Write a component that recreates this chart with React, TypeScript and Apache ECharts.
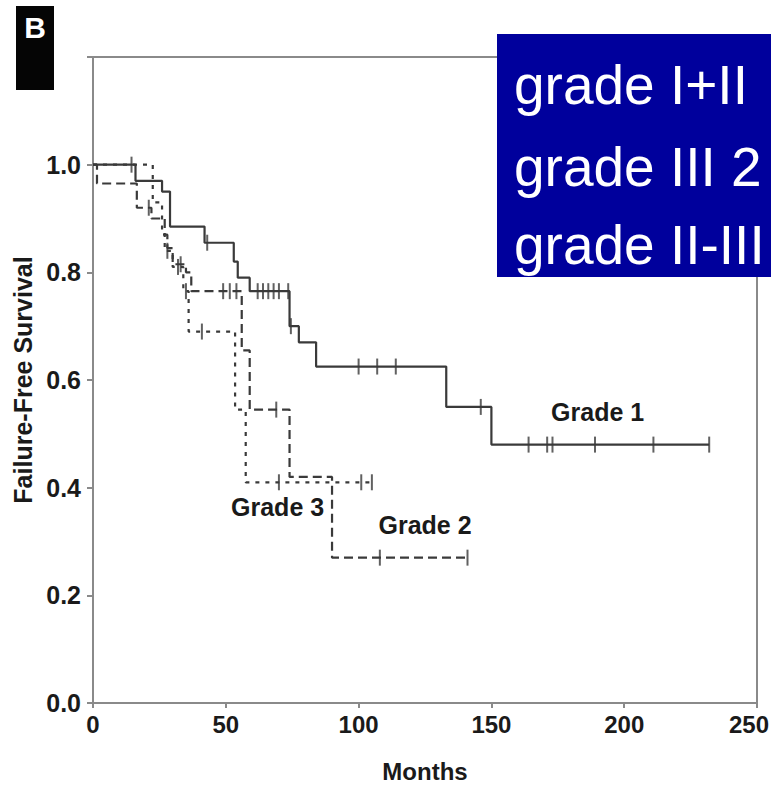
import React, { useEffect, useRef } from "react";
import * as echarts from "echarts";

// ---- data ----
const xTicks = [0, 50, 100, 150, 200, 250];
const yTicks = [0, 0.2, 0.4, 0.6, 0.8, 1.0];

// Grade 1 (solid)
const grade1Times = [0, 16, 26, 29, 42, 53, 54.5, 59, 74, 77.5, 84, 133, 150, 232];
const grade1Surv = [1.0, 0.97, 0.95, 0.885, 0.855, 0.82, 0.79, 0.765, 0.7, 0.67, 0.625, 0.55, 0.48, 0.48];
const grade1Censor = [14.5, 43, 62, 64, 66, 68, 70, 73.5, 74.5, 100, 107, 114, 146, 164, 171, 173, 189, 211, 232];

// Grade 2 (dashed)
const grade2Times = [0, 1.5, 16.5, 22, 27, 28, 30, 35, 37, 56, 59, 74, 90, 141];
const grade2Surv = [1.0, 0.965, 0.92, 0.9, 0.87, 0.845, 0.815, 0.8, 0.765, 0.655, 0.545, 0.42, 0.27, 0.27];
const grade2Censor = [21, 33, 49, 51.5, 54, 69, 108, 141];

// Grade 3 (dotted)
const grade3Times = [0, 22.5, 26, 27, 30, 34, 36, 53.5, 57.5, 105];
const grade3Surv = [1.0, 0.93, 0.87, 0.84, 0.81, 0.765, 0.69, 0.545, 0.41, 0.41];
const grade3Censor = [28, 32, 35, 41, 70, 101, 105];

const curveLabels = ["Grade 1", "Grade 2", "Grade 3"];
const curveLabelAnchors: [number, number][] = [
  [190, 0.54],
  [125, 0.331],
  [69.5, 0.364],
];

const legendLines = ["grade I+II", "grade III 2", "grade II-III"];
const panelLetter = "B";
const xAxisName = "Months";
const yAxisName = "Failure-Free Survival";

// ---- helpers ----
function stepValue(times: number[], surv: number[], t: number): number {
  let s = surv[0];
  for (let i = 0; i < times.length; i++) {
    if (times[i] <= t) s = surv[i];
  }
  return s;
}

function curveData(times: number[], surv: number[]) {
  return times.map((t, i) => [t, surv[i]]);
}

function censorData(times: number[], surv: number[], censor: number[]) {
  return censor.map((t) => [t, stepValue(times, surv, t)]);
}

const NARROW = "'Liberation Sans Narrow', 'Arial Narrow', 'Liberation Sans', Arial, sans-serif";
const SANS = "'Liberation Sans', Arial, sans-serif";
const INK = "#1a1a1a";
const LINE = "#3a3a3a";
const FRAME = "#8a8a8a";

export default function App() {
  const ref = useRef<HTMLDivElement>(null);

  useEffect(() => {
    document.body.style.margin = "0";
    if (!ref.current) return;
    const chart = echarts.init(ref.current, undefined, { renderer: "svg" });

    const tickStyle = { color: FRAME, width: 2 };
    const xMax = xTicks[xTicks.length - 1];

    const censorSeries = (name: string, data: number[][]) => ({
      name,
      type: "scatter",
      data,
      symbol: "rect",
      symbolSize: [2, 16],
      itemStyle: { color: LINE },
      silent: true,
      z: 4,
    });

    chart.setOption({
      animation: false,
      backgroundColor: "#ffffff",
      grid: {
        left: 93,
        right: 14,
        top: 57,
        bottom: 84,
        containLabel: false,
        outerBoundsMode: "none",
        show: true,
        borderColor: FRAME,
        borderWidth: 2,
        backgroundColor: "transparent",
      },
      xAxis: {
        type: "value",
        min: xTicks[0],
        max: xMax,
        interval: xTicks[1] - xTicks[0],
        axisLine: { show: true, lineStyle: tickStyle },
        axisTick: { show: true, length: 5, lineStyle: tickStyle },
        splitLine: { show: false },
        axisLabel: {
          fontFamily: NARROW,
          fontWeight: "bold",
          fontSize: 24,
          color: INK,
          margin: 9,
          formatter: (v: number) => (v >= xMax ? `{last|${v}}` : `${v}`),
          rich: {
            last: {
              fontFamily: NARROW,
              fontWeight: "bold",
              fontSize: 24,
              color: INK,
              padding: [0, 16, 0, 0],
            },
          },
        },
        name: xAxisName,
        nameLocation: "middle",
        nameGap: 56,
        nameTextStyle: { fontFamily: NARROW, fontWeight: "bold", fontSize: 24, color: INK },
      },
      yAxis: {
        type: "value",
        min: 0,
        max: 1.2,
        interval: yTicks[1] - yTicks[0],
        axisLine: { show: true, lineStyle: tickStyle },
        axisTick: { show: true, length: 6, lineStyle: tickStyle },
        splitLine: { show: false },
        axisLabel: {
          fontFamily: NARROW,
          fontWeight: "bold",
          fontSize: 25,
          color: INK,
          margin: 12,
          formatter: (v: number) => (v > yTicks[yTicks.length - 1] + 0.001 ? "" : v.toFixed(1)),
        },
        name: yAxisName,
        nameLocation: "middle",
        nameGap: 54,
        nameTextStyle: { fontFamily: SANS, fontWeight: "bold", fontSize: 25, color: INK },
      },
      series: [
        {
          name: "Grade 1",
          type: "line",
          step: "end",
          data: curveData(grade1Times, grade1Surv),
          symbol: "none",
          lineStyle: { color: LINE, width: 2.2, type: "solid" },
          silent: true,
          z: 3,
        },
        {
          name: "Grade 2",
          type: "line",
          step: "end",
          data: curveData(grade2Times, grade2Surv),
          symbol: "none",
          lineStyle: { color: LINE, width: 2.2, type: [9, 5] },
          silent: true,
          z: 3,
        },
        {
          name: "Grade 3",
          type: "line",
          step: "end",
          data: curveData(grade3Times, grade3Surv),
          symbol: "none",
          lineStyle: { color: LINE, width: 2.2, type: [4, 6] },
          silent: true,
          z: 3,
        },
        censorSeries("Grade 1 censored", censorData(grade1Times, grade1Surv, grade1Censor)),
        censorSeries("Grade 2 censored", censorData(grade2Times, grade2Surv, grade2Censor)),
        censorSeries("Grade 3 censored", censorData(grade3Times, grade3Surv, grade3Censor)),
      ],
    });

    const labelGraphics = curveLabels.map((txt, i) => {
      const p = chart.convertToPixel({ gridIndex: 0 }, curveLabelAnchors[i]) as number[];
      return {
        type: "text",
        x: p[0],
        y: p[1],
        z: 10,
        style: {
          text: txt,
          fill: INK,
          font: `bold 25px ${NARROW}`,
          align: "center",
          verticalAlign: "middle",
        },
      };
    });

    const legendMidY = [85, 167, 245];
    const legendGraphics = legendLines.map((txt, i) => ({
      type: "text",
      x: 514,
      y: legendMidY[i],
      z: 21,
      style: {
        text: txt,
        fill: "#ffffff",
        font: `55px ${SANS}`,
        align: "left",
        verticalAlign: "middle",
      },
    }));

    chart.setOption({
      graphic: [
        {
          type: "rect",
          shape: { x: 16, y: 6, width: 38, height: 84 },
          style: { fill: "#050505" },
          z: 20,
        },
        {
          type: "text",
          x: 35,
          y: 27,
          z: 21,
          style: {
            text: panelLetter,
            fill: "#ffffff",
            font: `bold 30px ${SANS}`,
            align: "center",
            verticalAlign: "middle",
          },
        },
        {
          type: "rect",
          shape: { x: 497, y: 34, width: 274, height: 243 },
          style: { fill: "#00009c" },
          z: 20,
        },
        ...legendGraphics,
        ...labelGraphics,
      ],
    });

    return () => {
      chart.dispose();
    };
  }, []);

  return <div ref={ref} style={{ width: 771, height: 787 }} />;
}
